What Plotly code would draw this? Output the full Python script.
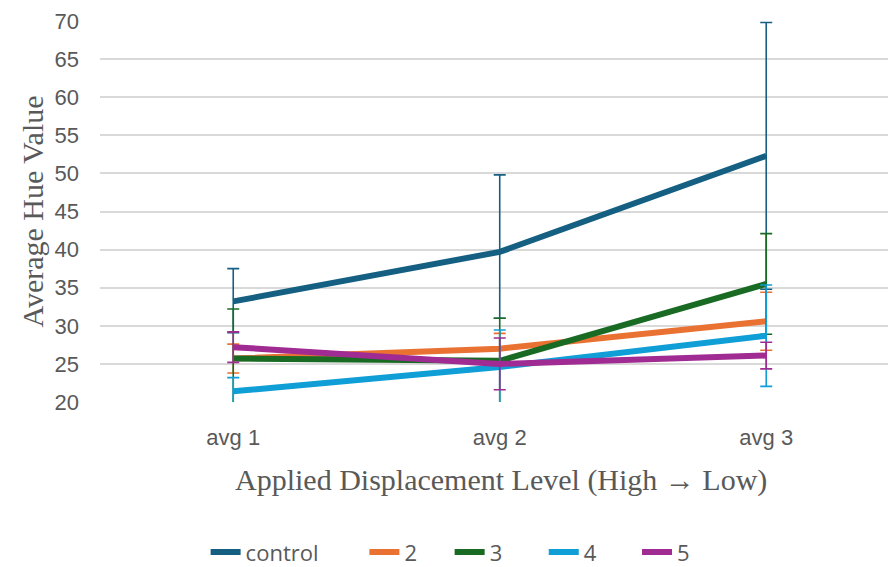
import plotly.graph_objects as go

categories = ["avg 1", "avg 2", "avg 3"]
series_names = ["control", "2", "3", "4", "5"]
colors = ["#156082", "#E97132", "#196B24", "#0F9ED5", "#A02B93"]

control = [33.2, 39.7, 52.3]
s2 = [25.7, 27.0, 30.6]
s3 = [25.7, 25.4, 35.5]
s4 = [21.4, 24.6, 28.7]
s5 = [27.2, 25.0, 26.1]

control_err_plus = [4.3, 10.1, 17.5]
control_err_minus = [4.1, 8.7, 17.5]
s2_err = [1.9, 2.0, 3.8]
s3_err = [6.5, 5.6, 6.6]
s4_err = [1.8, 4.85, 6.65]
s5_err = [2.0, 3.4, 1.75]

values = [control, s2, s3, s4, s5]
err_plus = [control_err_plus, s2_err, s3_err, s4_err, s5_err]
err_minus = [control_err_minus, s2_err, s3_err, s4_err, s5_err]

y_ticks = [20, 25, 30, 35, 40, 45, 50, 55, 60, 65, 70]

# legend entry centres (fraction of figure width)
legend_x = [0.298, 0.443, 0.539, 0.645, 0.750]
legend_ids = ["legend", "legend2", "legend3", "legend4", "legend5"]

fig = go.Figure()
for name, vals, ep, em, c, lid in zip(series_names, values, err_plus, err_minus, colors, legend_ids):
    fig.add_trace(go.Scatter(
        x=categories, y=vals, name=name, mode="lines",
        line=dict(color=c, width=6),
        legend=lid,
        error_y=dict(type="data", array=ep, arrayminus=em, symmetric=False,
                     color=c, thickness=1.6, width=6),
    ))

legend_common = dict(orientation="h", xref="container", yref="container",
                     y=0.026, xanchor="center", yanchor="middle",
                     font=dict(family="Open Sans", size=22, color="#595959"),
                     bgcolor="rgba(0,0,0,0)")
legend_layout = {lid: dict(legend_common, x=lx) for lid, lx in zip(legend_ids, legend_x)}

fig.update_layout(
    width=888, height=567,
    margin=dict(l=100, r=0, t=21, b=165),
    plot_bgcolor="white", paper_bgcolor="white",
    showlegend=True,
    **legend_layout,
    xaxis=dict(
        type="category", range=[-0.5, 2.457],
        showgrid=False, showline=False, zeroline=False, ticks="",
        tickfont=dict(family="Liberation Sans", size=22, color="#595959"),
        ticklabelstandoff=20,
    ),
    yaxis=dict(
        range=[20, 70], tickvals=y_ticks,
        showgrid=True, gridcolor="#D9D9D9", gridwidth=1.5,
        zeroline=False, showline=False, ticks="",
        tickfont=dict(family="Liberation Sans", size=22, color="#595959"),
        ticklabelstandoff=20,
        title=dict(text="Average Hue Value",
                   font=dict(family="Liberation Serif", size=30, color="#595959"),
                   standoff=2),
    ),
    annotations=[dict(
        text="Applied Displacement Level (High → Low)",
        xref="paper", yref="paper", x=0.509, y=-0.205,
        xanchor="center", yanchor="middle", showarrow=False,
        font=dict(family="Liberation Serif", size=30, color="#595959"),
    )],
)

fig.write_html("out.html", config={"displayModeBar": False},
               post_script="document.body.style.margin='0';document.body.style.overflow='hidden';")
